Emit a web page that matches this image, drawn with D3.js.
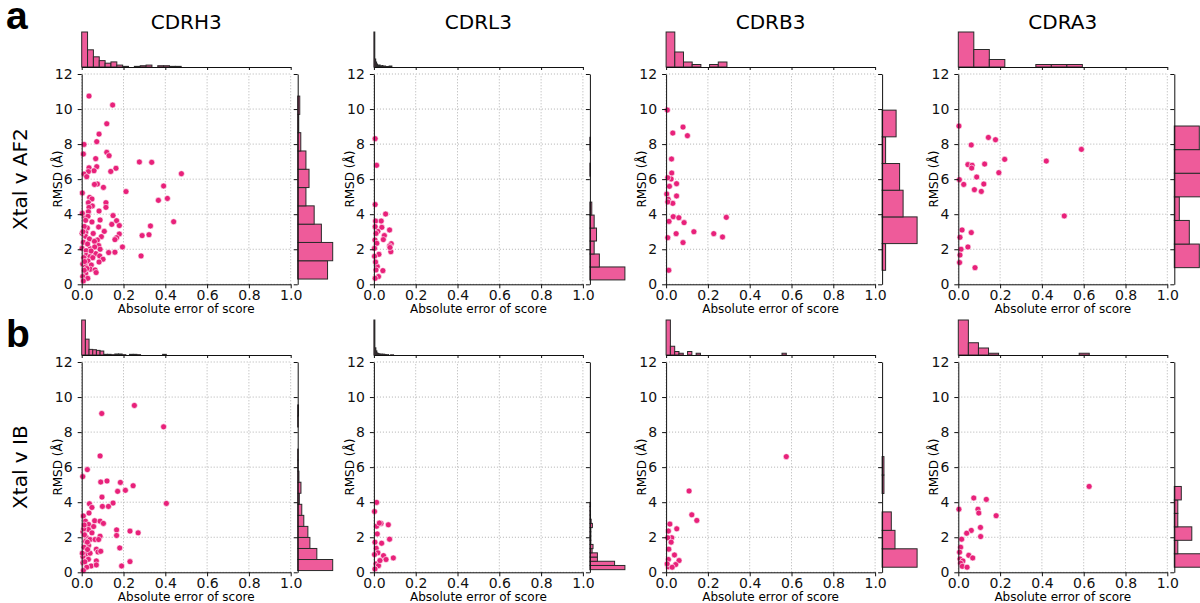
<!DOCTYPE html>
<html>
<head>
<meta charset="utf-8">
<script src="https://cdn.jsdelivr.net/npm/d3@7"></script>
<style>
  body { margin: 0; background: #fff; }
  svg { display: block; font-family: "DejaVu Sans", sans-serif; }
</style>
</head>
<body>
<svg id="chart" width="1200" height="603"></svg>
<script>
// loops (columns) and comparisons (rows)
const loops = ["CDRH3", "CDRL3", "CDRB3", "CDRA3"];
const comparisons = ["Xtal v AF2", "Xtal v IB"];
const panelLetters = ["a", "b"];
const xTicks = [0, 0.2, 0.4, 0.6, 0.8, 1.0];
const yTicks = [0, 2, 4, 6, 8, 10, 12];

// scatter points [absolute error of score, RMSD]
const ptsAF2_H3 = [[0.035,10.74],[0.148,10.23],[0.12,9.16],[0.083,8.57],[0.072,8.14],[0.011,7.98],[0.008,7.43],[0.12,7.53],[0.131,7.34],[0.067,7.17],[0.276,6.98],[0.335,6.96],[0.477,6.31],[0.164,6.62],[0.072,6.71],[0.035,6.65],[0.059,6.48],[0.032,6.43],[0.139,6.44],[0.011,6.29],[0.024,6.14],[0.075,5.72],[0.061,5.7],[0.104,5.53],[0.392,5.61],[0.212,5.29],[0.003,5.21],[0.038,4.96],[0.049,4.87],[0.41,4.9],[0.367,4.79],[0.032,4.66],[0.116,4.66],[0.051,4.47],[0.035,4.39],[0.116,4.39],[0.083,4.18],[0.032,4.14],[0.15,3.92],[0.016,3.86],[0.03,3.88],[0.167,3.63],[0.088,3.67],[0.019,3.65],[0.44,3.57],[0.049,3.56],[0.144,3.42],[0.18,3.35],[0.329,3.33],[0.081,3.27],[0.027,3.21],[0.108,3.02],[0.019,2.95],[0.18,2.87],[0.289,2.78],[0.322,2.83],[0.094,2.72],[0.018,2.74],[0.167,2.66],[0.159,2.55],[0.075,2.53],[0.037,2.59],[0.061,2.45],[0.008,2.4],[0.081,2.21],[0.195,2.13],[0.04,2.03],[0.088,2.0],[0.062,2.13],[0.002,2.05],[0.021,1.92],[0.159,1.83],[0.129,1.81],[0.067,1.75],[0.284,1.62],[0.021,1.65],[0.086,1.62],[0.04,1.58],[0.053,1.52],[0.102,1.43],[0.01,1.52],[0.083,1.27],[0.03,1.33],[0.046,1.1],[0.005,1.16],[0.018,1.01],[0.041,0.86],[0.064,0.82],[0.069,0.67],[0.019,0.63],[0.005,0.44],[0.029,0.34],[0.008,0.19],[0.003,4.05],[0.002,2.91],[0.012,3.3],[0.006,3.0],[0.014,1.3],[0.025,0.9],[0.045,1.9],[0.055,2.9],[0.028,2.3],[0.012,0.8]];
const ptsAF2_L3 = [[0.006,8.31],[0.013,6.79],[0.006,4.55],[0.056,4.01],[0.008,3.61],[0.035,3.61],[0.038,3.25],[0.019,3.02],[0.075,3.1],[0.05,2.78],[0.045,2.55],[0.005,2.53],[0.083,2.32],[0.014,2.34],[0.075,2.19],[0.081,1.86],[0.024,1.71],[0.003,1.6],[0.016,1.01],[0.043,0.78],[0.022,0.44],[0.006,0.34],[0.008,1.27],[0.01,0.82],[0.003,2.05],[0.006,3.29],[0.077,2.1],[0.01,2.9]];
const ptsAF2_B3 = [[0.006,9.94],[0.081,8.97],[0.032,8.63],[0.102,8.48],[0.026,7.15],[0.027,6.35],[0.024,6.01],[0.008,6.08],[0.05,5.74],[0.016,5.59],[0.003,5.15],[0.05,5.04],[0.01,4.85],[0.032,4.62],[0.008,4.7],[0.288,3.82],[0.034,3.86],[0.061,3.8],[0.086,3.52],[0.014,3.59],[0.133,3.0],[0.048,2.89],[0.228,2.89],[0.27,2.7],[0.008,2.66],[0.081,2.38],[0.013,0.8]];
const ptsAF2_A3 = [[0.003,9.03],[0.144,8.38],[0.178,8.25],[0.062,7.95],[0.589,7.7],[0.222,7.13],[0.421,7.03],[0.046,6.83],[0.066,6.79],[0.064,6.63],[0.126,6.86],[0.194,6.37],[0.088,6.12],[0.005,5.97],[0.026,5.7],[0.122,5.72],[0.077,5.4],[0.11,5.3],[0.507,3.9],[0.018,3.1],[0.062,2.95],[0.008,2.68],[0.046,2.13],[0.013,2.0],[0.008,1.67],[0.006,1.24],[0.08,0.95]];
const ptsIB_H3 = [[0.252,9.52],[0.096,9.06],[0.392,8.3],[0.088,6.64],[0.027,5.86],[0.005,5.46],[0.121,5.21],[0.091,5.15],[0.185,5.13],[0.246,4.94],[0.209,4.68],[0.172,4.62],[0.097,4.29],[0.405,3.93],[0.15,3.95],[0.037,3.91],[0.049,3.7],[0.099,3.76],[0.128,3.76],[0.008,3.21],[0.035,3.38],[0.018,2.92],[0.062,2.94],[0.088,2.92],[0.104,2.79],[0.033,2.73],[0.057,2.61],[0.032,2.44],[0.167,2.42],[0.231,2.35],[0.27,2.25],[0.006,2.31],[0.049,2.25],[0.167,2.1],[0.088,2.06],[0.022,1.98],[0.04,1.87],[0.064,1.87],[0.019,1.77],[0.081,1.87],[0.033,1.53],[0.011,1.43],[0.182,1.39],[0.07,1.32],[0.078,1.16],[0.091,1.2],[0.022,1.05],[0.04,1.09],[0.006,0.9],[0.032,0.74],[0.07,0.65],[0.006,0.55],[0.231,0.61],[0.045,0.36],[0.07,0.42],[0.191,0.36],[0.024,0.29],[0.008,0.1],[0.003,1.09],[0.013,2.14],[0.01,2.48],[0.027,1.72],[0.015,0.6],[0.028,1.3],[0.012,2.7]];
const ptsIB_L3 = [[0.013,3.99],[0.003,3.47],[0.034,2.79],[0.069,2.71],[0.013,2.63],[0.026,2.81],[0.016,2.19],[0.075,1.89],[0.037,1.66],[0.011,1.37],[0.019,1.11],[0.046,0.95],[0.093,0.82],[0.058,0.73],[0.003,1.01],[0.01,0.48],[0.022,0.38],[0.005,0.19],[0.029,0.67],[0.005,1.72]];
const ptsIB_B3 = [[0.575,6.6],[0.11,4.64],[0.123,3.28],[0.147,2.96],[0.018,2.75],[0.051,2.48],[0.011,2.35],[0.027,1.97],[0.008,1.97],[0.024,1.72],[0.013,1.32],[0.04,0.99],[0.011,0.73],[0.062,0.67],[0.046,0.44],[0.011,0.31],[0.029,0.29],[0.005,0.48]];
const ptsIB_A3 = [[0.626,4.9],[0.074,4.24],[0.134,4.16],[0.003,3.6],[0.094,3.6],[0.098,3.38],[0.181,3.23],[0.062,2.39],[0.04,2.23],[0.106,2.56],[0.107,2.04],[0.016,1.89],[0.011,1.43],[0.006,1.15],[0.05,0.97],[0.069,0.82],[0.008,0.76],[0.022,0.65],[0.011,0.52],[0.019,0.34],[0.042,0.29]];

// top marginal histograms: counts per bin, bins start at 0
const xCountsAF2 = [
  [55, 27, 16, 10, 6, 8, 3, 1, 0, 1, 2, 3, 0, 2, 2, 1, 1],
  [70, 16, 10, 6, 4, 3, 4, 2, 2, 3, 2, 1, 2, 1, 0, 1, 1, 2, 1, 2],
  [14, 6, 2, 1, 0, 1, 2],
  [14, 7, 3, 0, 0, 1, 1, 1]
];
const xCountsIB = [
  [106, 48, 17, 16, 14, 12, 2, 2, 1, 3, 3, 1, 0, 2, 2, 1, 0, 0, 0, 0, 0, 0, 2],
  [170, 35, 20, 10, 7, 5, 5, 2, 5, 2, 4, 2, 2, 0, 2, 0, 0, 1, 0, 1],
  [20, 5, 2, 1, 0, 2, 0, 1, 0, 0, 0, 0, 0, 0, 0, 0, 0, 0, 0, 0, 0, 0, 0, 0, 0, 0, 0, 1],
  [20, 7, 4, 1, 0, 0, 0, 0, 0, 0, 0, 0, 1]
];
const xBinWidthAF2 = [0.028, 0.0043, 0.0416, 0.0742];
const xBinWidthIB = [0.0176, 0.0047, 0.02054, 0.0482];

// right marginal histograms: counts per bin (bottom up), [start, width] of bins
const yCountsAF2 = [
  [29, 34, 23, 16, 8, 11, 8, 3, 1, 2],
  [74, 20, 9, 14, 9, 4, 0, 0, 1, 0, 1],
  [1, 10, 6, 5, 1, 4],
  [5, 3, 1, 6, 7, 5]
];
const yCountsIB = [
  [86, 47, 30, 25, 15, 10, 4, 8, 3, 1, 1, 0, 0, 1, 2],
  [112, 79, 24, 24, 7, 10, 3, 3, 3, 3, 8, 4, 2, 2, 1, 2],
  [19, 7, 5, 0, 1, 1],
  [10, 1, 5, 1, 1, 2]
];
const yBinsAF2 = [[0.30, 1.044], [0.25, 0.74], [0.80, 1.523], [0.95, 1.347]];
const yBinsIB = [[0.10, 0.63], [0.15, 0.24], [0.29, 1.052], [0.29, 0.768]];

const allPts = [[ptsAF2_H3, ptsAF2_L3, ptsAF2_B3, ptsAF2_A3], [ptsIB_H3, ptsIB_L3, ptsIB_B3, ptsIB_A3]];
const allXCounts = [xCountsAF2, xCountsIB];
const allXWidth = [xBinWidthAF2, xBinWidthIB];
const allYCounts = [yCountsAF2, yCountsIB];
const allYBins = [yBinsAF2, yBinsIB];

// layout
const col0 = 81.7, colStep = 292.2, plotW = 209;
const row0 = 74, rowStep = 288, plotH = 210.3;
const margGap = 7, margSize = 35;
const dotColor = "#e8217a", barColor = "#ee5b9a", edgeColor = "#2a2a2a";

const svg = d3.select("#chart");

// column titles
loops.forEach((name, c) => {
  svg.append("text")
    .attr("x", col0 + c * colStep + plotW / 2)
    .attr("y", 29)
    .attr("text-anchor", "middle")
    .attr("font-size", 20)
    .text(name);
});

comparisons.forEach((comp, r) => {
  const top = row0 + r * rowStep;
  // row labels
  svg.append("text")
    .attr("transform", `translate(27,${top + plotH / 2}) rotate(-90)`)
    .attr("text-anchor", "middle")
    .attr("font-size", 20)
    .text(comp);
  // panel letters
  svg.append("text")
    .attr("x", 6)
    .attr("y", r === 0 ? 29 : 347)
    .attr("font-family", "'Liberation Sans', Arial, sans-serif")
    .attr("font-weight", "bold")
    .attr("font-size", 39)
    .text(panelLetters[r]);

  loops.forEach((loop, c) => {
    const left = col0 + c * colStep;
    const x = d3.scaleLinear().domain([0, 1]).range([left, left + plotW]);
    const y = d3.scaleLinear().domain([0, 12]).range([top + plotH, top]);
    const g = svg.append("g");

    // dotted grid
    g.selectAll(".gx").data(xTicks).enter().append("line")
      .attr("x1", d => x(d)).attr("x2", d => x(d))
      .attr("y1", y(0)).attr("y2", y(12))
      .attr("stroke", "#b0b0b0").attr("stroke-dasharray", "1,2");
    g.selectAll(".gy").data(yTicks).enter().append("line")
      .attr("x1", x(0)).attr("x2", x(1))
      .attr("y1", d => y(d)).attr("y2", d => y(d))
      .attr("stroke", "#b0b0b0").attr("stroke-dasharray", "1,2");

    // scatter
    g.selectAll("circle").data(allPts[r][c]).enter().append("circle")
      .attr("cx", d => x(d[0]))
      .attr("cy", d => y(d[1]))
      .attr("r", 3)
      .attr("fill", dotColor)
      .attr("stroke", "#fff")
      .attr("stroke-width", 0.6);

    // axes
    const ax = g.append("g")
      .attr("transform", `translate(0,${y(0)})`)
      .call(d3.axisBottom(x).tickValues(xTicks).tickFormat(d3.format(".1f")).tickSize(4).tickSizeOuter(0).tickPadding(2));
    const ay = g.append("g")
      .attr("transform", `translate(${x(0)},0)`)
      .call(d3.axisLeft(y).tickValues(yTicks).tickSize(4).tickSizeOuter(0).tickPadding(5));
    [ax, ay].forEach(a => {
      a.selectAll("text").attr("font-size", 14).attr("font-family", "'DejaVu Sans', sans-serif").attr("fill", "#111");
      a.selectAll("line, path").attr("stroke", "#111");
    });

    // axis labels
    g.append("text")
      .attr("x", x(0.5)).attr("y", y(0) + 29)
      .attr("text-anchor", "middle").attr("font-size", 12)
      .text("Absolute error of score");
    g.append("text")
      .attr("transform", `translate(${x(0) - 20},${y(6)}) rotate(-90)`)
      .attr("text-anchor", "middle").attr("font-size", 12)
      .text("RMSD (Å)");

    // top marginal histogram
    const xc = allXCounts[r][c], xw = allXWidth[r][c];
    const hTop = d3.scaleLinear().domain([0, d3.max(xc)]).range([0, margSize]);
    const base = top - margGap;
    g.selectAll(".tb").data(xc).enter().append("rect")
      .attr("x", (d, i) => x(i * xw))
      .attr("width", (d, i) => x((i + 1) * xw) - x(i * xw))
      .attr("y", d => base - hTop(d))
      .attr("height", d => hTop(d))
      .attr("fill", barColor).attr("stroke", edgeColor).attr("stroke-width", 1);
    g.append("g")
      .attr("transform", `translate(0,${base})`)
      .call(d3.axisBottom(x).tickValues(xTicks).tickFormat("").tickSize(3).tickSizeOuter(0))
      .selectAll("line, path").attr("stroke", "#111");

    // right marginal histogram
    const yc = allYCounts[r][c], yb = allYBins[r][c];
    const wRight = d3.scaleLinear().domain([0, d3.max(yc)]).range([0, margSize]);
    const side = x(1) + margGap;
    g.selectAll(".rb").data(yc).enter().append("rect")
      .attr("x", side)
      .attr("width", d => wRight(d))
      .attr("y", (d, i) => y(yb[0] + (i + 1) * yb[1]))
      .attr("height", (d, i) => y(yb[0] + i * yb[1]) - y(yb[0] + (i + 1) * yb[1]))
      .attr("fill", barColor).attr("stroke", edgeColor).attr("stroke-width", 1);
    g.append("g")
      .attr("transform", `translate(${side},0)`)
      .call(d3.axisLeft(y).tickValues(yTicks).tickFormat("").tickSize(4).tickSizeOuter(0))
      .selectAll("line, path").attr("stroke", "#111");
  });
});
</script>
</body>
</html>
